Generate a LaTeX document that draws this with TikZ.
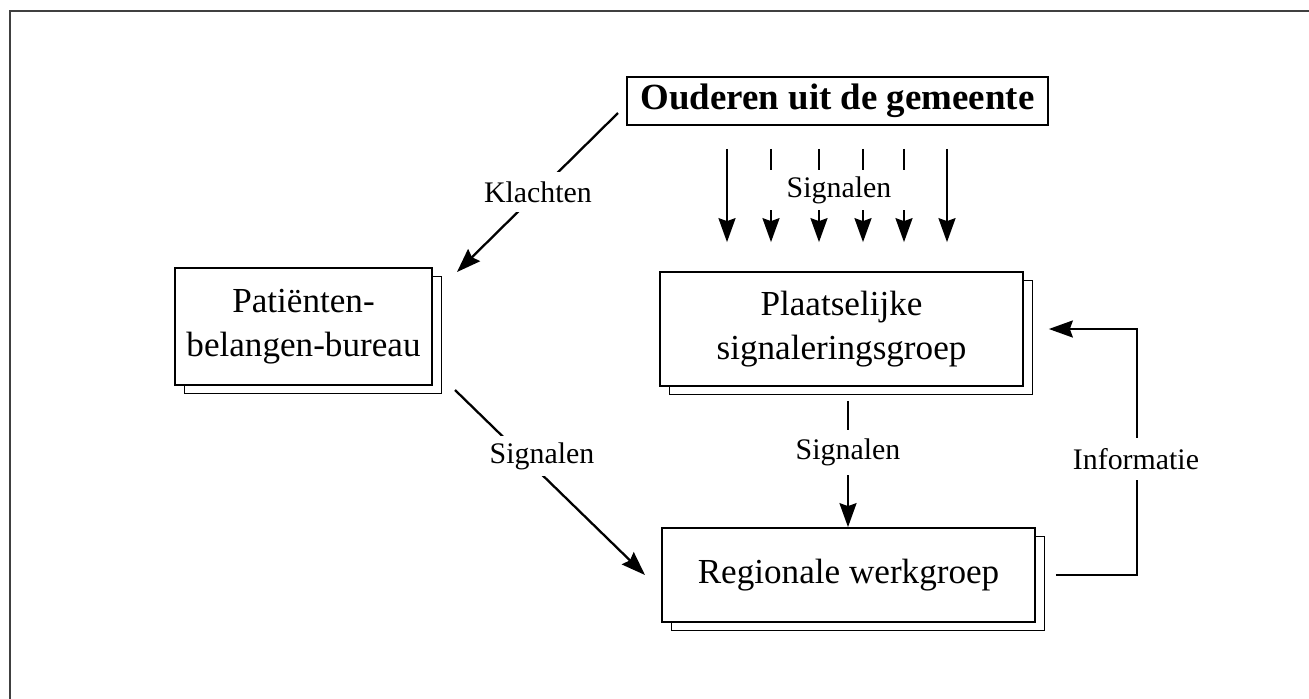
\documentclass[tikz,border=0pt]{standalone}
\usepackage{fontspec}
\setmainfont{Liberation Serif}
\usetikzlibrary{arrows.meta,shadows}

\begin{document}
\begin{tikzpicture}[x=0.02cm, y=-0.02cm,
  box/.style={draw, line width=1pt, fill=white, align=center, inner sep=0pt,
    font=\fontsize{20}{25}\selectfont,
    general shadow={shadow xshift=0.19cm, shadow yshift=-0.17cm, fill=white, draw, line width=1pt}},
  titlebox/.style={draw, line width=1pt, inner sep=0pt, minimum width=8.42cm, minimum height=0.96cm,
    font=\fontsize{21}{25}\selectfont\bfseries},
  lbl/.style={fill=white, inner xsep=2pt, inner ysep=0pt, font=\fontsize{17}{20}\selectfont},
  line/.style={line width=1.3pt},
  arr/.style={line width=1.3pt, -{Stealth[length=0.48cm, width=0.34cm, inset=0.06cm]}}]
\useasboundingbox (0,0) rectangle (1309,698);
\draw[line width=1.1pt, black!75] (10,11) rectangle (1340,730);
% boxes
\node[titlebox] (ouder) at (837.5,101) {Ouderen uit de gemeente};
\node[box, minimum width=5.14cm, minimum height=2.34cm] (patient) at (303.5,326.5) {Patiënten-\\belangen-bureau};
\node[box, minimum width=7.26cm, minimum height=2.28cm] (plaats) at (841.5,329) {Plaatselijke\\signaleringsgroep};
\node[box, minimum width=7.46cm, minimum height=1.88cm] (regio) at (848.5,575) {Regionale werkgroep};
% signals from the top
\node[lbl, minimum height=0.8cm] (sigtop) at (839,190) {Signalen};
\foreach \x in {727,947}
  \draw[arr, shorten <=0.46cm, shorten >=0.58cm] (\x,0 |- ouder.south) -- (\x,0 |- plaats.north);
\foreach \x in {771,819,863,904} {
  \draw[line, shorten <=0.46cm] (\x,0 |- ouder.south) -- (\x,0 |- sigtop.north);
  \draw[arr, shorten >=0.58cm] (\x,0 |- sigtop.south) -- (\x,0 |- plaats.north);
}
% plaatselijk -> regionaal
\node[lbl, minimum height=0.9cm] (sigmid) at (848,452.5) {Signalen};
\draw[line, shorten <=0.28cm] (848,0 |- plaats.south) -- (sigmid.north);
\draw[arr] (sigmid.south) -- (848,0 |- regio.north);
% klachten
\coordinate (kfrom) at (618,113);
\coordinate (kto) at (457,272);
\draw[arr] (kfrom) -- (kto);
\node[lbl, minimum height=0.8cm] (klacht) at (538,192) {Klachten};
% bureau -> regionaal
\coordinate (sfrom) at (455,390);
\coordinate (sto) at (645,575);
\draw[arr] (sfrom) -- (sto);
\node[lbl, minimum height=0.8cm] (siglinks) at (542,456) {Signalen};
% informatie
\draw[arr] ([xshift=0.4cm]regio.east) -| ([xshift=2.26cm]plaats.east) -- ([xshift=0.5cm]plaats.east);
\node[lbl, minimum height=0.84cm] (info) at (1136,459) {Informatie};
\end{tikzpicture}
\end{document}
